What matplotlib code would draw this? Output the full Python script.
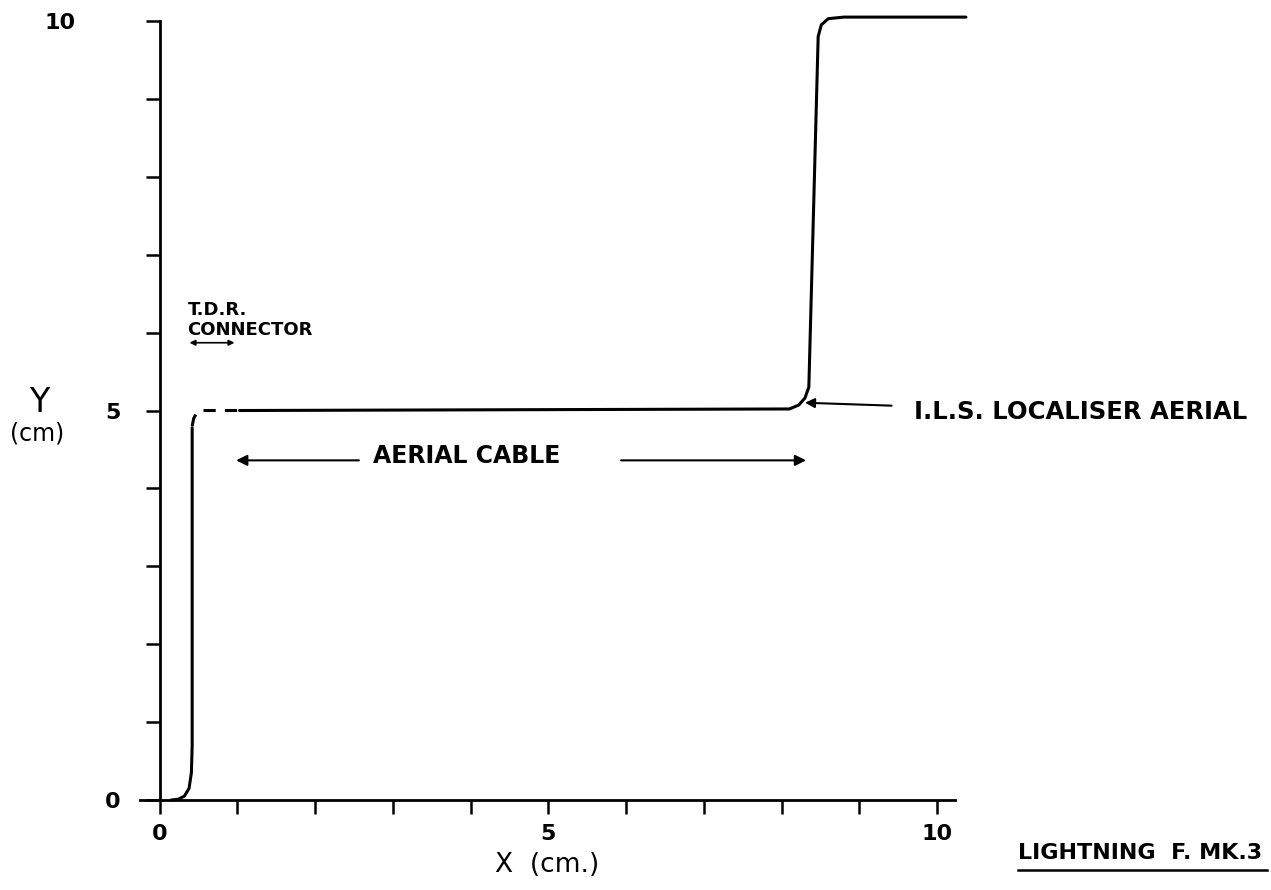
import matplotlib
matplotlib.use("Agg")
import matplotlib.pyplot as plt
import matplotlib.transforms as mtransforms
from matplotlib.lines import Line2D

# trace (cm)
low_x = [0.15, 0.24, 0.32, 0.38, 0.41, 0.42, 0.42]
low_y = [0.0, 0.01, 0.05, 0.15, 0.35, 0.7, 4.78]
dash_x = [0.42, 0.44, 0.48, 0.55, 0.65, 1.03]
dash_y = [4.80, 4.90, 4.97, 5.0, 5.0, 5.0]
high_x = [1.03, 8.1, 8.22, 8.3, 8.35, 8.47, 8.51, 8.6, 8.8, 10.37]
high_y = [5.0, 5.02, 5.07, 5.16, 5.3, 9.8, 9.95, 10.03, 10.05, 10.05]

xticks = list(range(0, 11))
xticklabels = ["0", "", "", "", "", "5", "", "", "", "", "10"]
yticks = list(range(0, 11))
yticklabels = ["0", "", "", "", "", "5", "", "", "", "", "10"]

plt.rcParams['font.family'] = ['DejaVu Sans']
plt.rcParams['font.weight'] = 'bold'

fig = plt.figure(figsize=(12.71, 8.90), dpi=100)
ax = fig.add_axes([0.1102, 0.1011, 0.6412, 0.8753])

ax.plot(low_x, low_y, color="black", lw=2.2, solid_capstyle="round", clip_on=False)
ax.plot(dash_x, dash_y, color="black", lw=2.2, dashes=(4, 3), clip_on=False)
ax.plot(high_x, high_y, color="black", lw=2.2, solid_capstyle="round", clip_on=False)

ax.set_xlim(-0.25, 10.23)
ax.set_ylim(0, 10)
ax.spines['left'].set_position(('data', 0))
ax.spines['top'].set_visible(False)
ax.spines['right'].set_visible(False)
for s in ('left', 'bottom'):
    ax.spines[s].set_linewidth(2.0)

ax.set_xticks(xticks)
ax.set_xticklabels(xticklabels, fontsize=16, fontweight='bold')
ax.set_yticks(yticks)
ax.set_yticklabels(yticklabels, fontsize=16, fontweight='bold')
ax.tick_params(axis='x', direction='out', length=10, width=1.8, pad=7)
ax.tick_params(axis='y', direction='out', length=10, width=1.8, pad=18)

# the "10" on the y axis sits further out in the drawing
lab10 = ax.get_yticklabels()[10]
lab10.set_transform(lab10.get_transform() +
                    mtransforms.ScaledTranslation(-0.45, 0, fig.dpi_scale_trans))

ax.set_xlabel("X  (cm.)", fontsize=19, fontweight='normal', labelpad=6)
ax.text(-1.55, 5.1, "Y", fontsize=24, fontweight='normal', ha='center', va='center')
ax.text(-1.58, 4.7, "(cm)", fontsize=17, fontweight='normal', ha='center', va='center')

# annotations
ax.text(0.36, 5.92, "T.D.R.\nCONNECTOR", fontsize=13, fontweight='bold',
        ha='left', va='bottom', linespacing=1.1)
ax.annotate("", xy=(0.35, 5.87), xytext=(1.0, 5.87),
            arrowprops=dict(arrowstyle='<|-|>', color='black', lw=1.2,
                            mutation_scale=8))

ax.text(2.75, 4.42, "AERIAL CABLE", fontsize=17, fontweight='bold',
        ha='left', va='center')
ax.annotate("", xy=(0.95, 4.36), xytext=(2.6, 4.36),
            arrowprops=dict(arrowstyle='-|>', color='black', lw=1.5,
                            mutation_scale=16))
ax.annotate("", xy=(8.35, 4.36), xytext=(5.9, 4.36),
            arrowprops=dict(arrowstyle='-|>', color='black', lw=1.5,
                            mutation_scale=16))

ax.annotate("I.L.S. LOCALISER AERIAL", xy=(8.3, 5.1), xytext=(9.7, 4.98),
            fontsize=17.5, fontweight='bold', ha='left', va='center',
            annotation_clip=False,
            arrowprops=dict(arrowstyle='-|>', color='black', lw=1.5,
                            mutation_scale=14, shrinkA=14, shrinkB=0))

fig.text(0.801, 0.03, "LIGHTNING  F. MK.3", fontsize=16, fontweight='bold',
         ha='left', va='bottom')
fig.add_artist(Line2D([0.801, 0.997], [0.022, 0.022], transform=fig.transFigure,
                      color='black', lw=1.8))

fig.savefig("out.png", dpi=100)
plt.close(fig)
